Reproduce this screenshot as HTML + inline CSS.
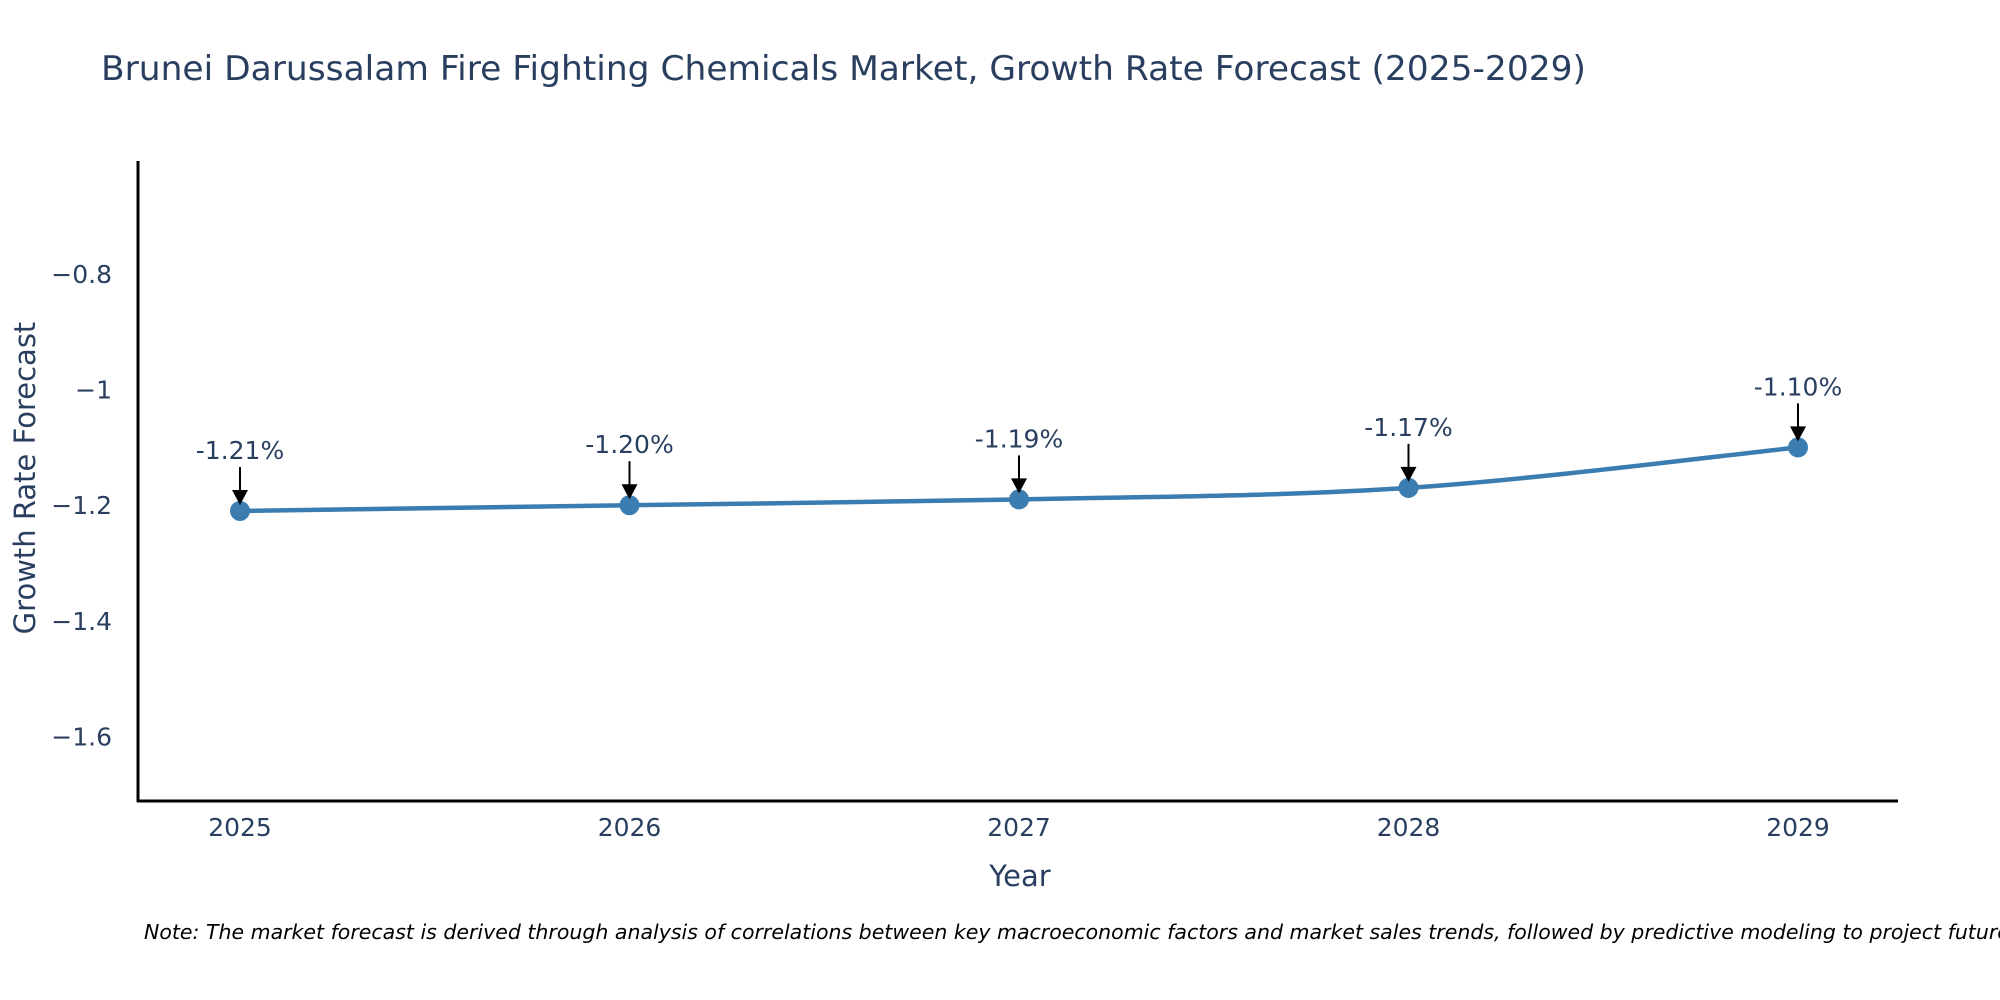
<!DOCTYPE html>
<html><head><meta charset="utf-8"><style>
html,body{margin:0;padding:0;background:#fff;overflow:hidden;}
svg{display:block;font-family:"DejaVu Sans","Liberation Sans",sans-serif;}
</style></head><body>
<svg id="chart" width="2000" height="1000" viewBox="0 0 2000 1000">
<text x="101" y="80" font-size="34" fill="#2a3f5f" textLength="1485" lengthAdjust="spacingAndGlyphs">Brunei Darussalam Fire Fighting Chemicals Market, Growth Rate Forecast (2025-2029)</text>
<g id="yticks"></g>
<g id="xticks"></g>
<line x1="138" y1="161" x2="138" y2="802" stroke="#000" stroke-width="3"/>
<line x1="137" y1="801" x2="1898" y2="801" stroke="#000" stroke-width="3"/>
<text transform="translate(35,478) rotate(-90)" text-anchor="middle" font-size="29" fill="#2a3f5f">Growth Rate Forecast</text>
<text x="1020" y="886" text-anchor="middle" font-size="29" fill="#2a3f5f">Year</text>
<g id="series"></g>
<g id="annots"></g>
<text x="144" y="939" font-size="20.5" font-style="italic" fill="#000">Note: The market forecast is derived through analysis of correlations between key macroeconomic factors and market sales trends, followed by predictive modeling to project future sales.</text>
</svg>
<script>
const years = [2025, 2026, 2027, 2028, 2029];
const growth = [-1.21, -1.20, -1.19, -1.17, -1.10];
const labels = ["-1.21%", "-1.20%", "-1.19%", "-1.17%", "-1.10%"];
const yTickVals = [-0.8, -1, -1.2, -1.4, -1.6];
const yTickLabels = ["\u22120.8", "\u22121", "\u22121.2", "\u22121.4", "\u22121.6"];

const NS = "http://www.w3.org/2000/svg";
function xs(v){ return 240 + (v - 2025) * 389.5; }
function ys(v){ return 274 + (-0.8 - v) * 578; }
function mk(tag, attrs, parent){ const e = document.createElementNS(NS, tag); for (const k in attrs) e.setAttribute(k, attrs[k]); parent.appendChild(e); return e; }

const yt = document.getElementById('yticks');
yTickVals.forEach((v, i) => {
  const t = mk('text', {x: 112, y: ys(v) + 9, 'text-anchor': 'end', 'font-size': 25, fill: '#2a3f5f'}, yt);
  
  
  t.textContent = yTickLabels[i];
});
const xt = document.getElementById('xticks');
years.forEach(v => {
  const t = mk('text', {x: xs(v), y: 836, 'text-anchor': 'middle', 'font-size': 25, fill: '#2a3f5f'}, xt);
  
  
  t.textContent = String(v);
});

const pts = years.map((y, i) => [xs(y), ys(growth[i])]);
let d = `M${pts[0][0]},${pts[0][1]}`;
for (let i = 0; i < pts.length - 1; i++) {
  const p0 = pts[Math.max(i - 1, 0)], p1 = pts[i], p2 = pts[i + 1], p3 = pts[Math.min(i + 2, pts.length - 1)];
  const c1 = [p1[0] + (p2[0] - p0[0]) / 6, p1[1] + (p2[1] - p0[1]) / 6];
  const c2 = [p2[0] - (p3[0] - p1[0]) / 6, p2[1] - (p3[1] - p1[1]) / 6];
  d += ` C${c1[0]},${c1[1]} ${c2[0]},${c2[1]} ${p2[0]},${p2[1]}`;
}
const s = document.getElementById('series');
const line = mk('path', {d: d, fill: 'none', stroke: '#3b7db0', 'stroke-width': 4.5}, s);


pts.forEach(p => {
  const c = mk('circle', {cx: p[0], cy: p[1], r: 10, fill: '#3b7db0'}, s);
  
  
});
const an = document.getElementById('annots');
pts.forEach((p, i) => {
  const l = mk('line', {x1: p[0], y1: p[1] - 44, x2: p[0], y2: p[1] - 18, stroke: '#000', 'stroke-width': 2}, an);
  
  
  const h = mk('path', {d: `M${p[0]-8},${p[1]-21} L${p[0]+8},${p[1]-21} L${p[0]},${p[1]-6} Z`, fill: '#000'}, an);
  
  
  const t = mk('text', {x: p[0], y: p[1] - 52, 'text-anchor': 'middle', 'font-size': 25, fill: '#2a3f5f'}, an);
  
  
  t.textContent = labels[i];
});
</script>
</body></html>
